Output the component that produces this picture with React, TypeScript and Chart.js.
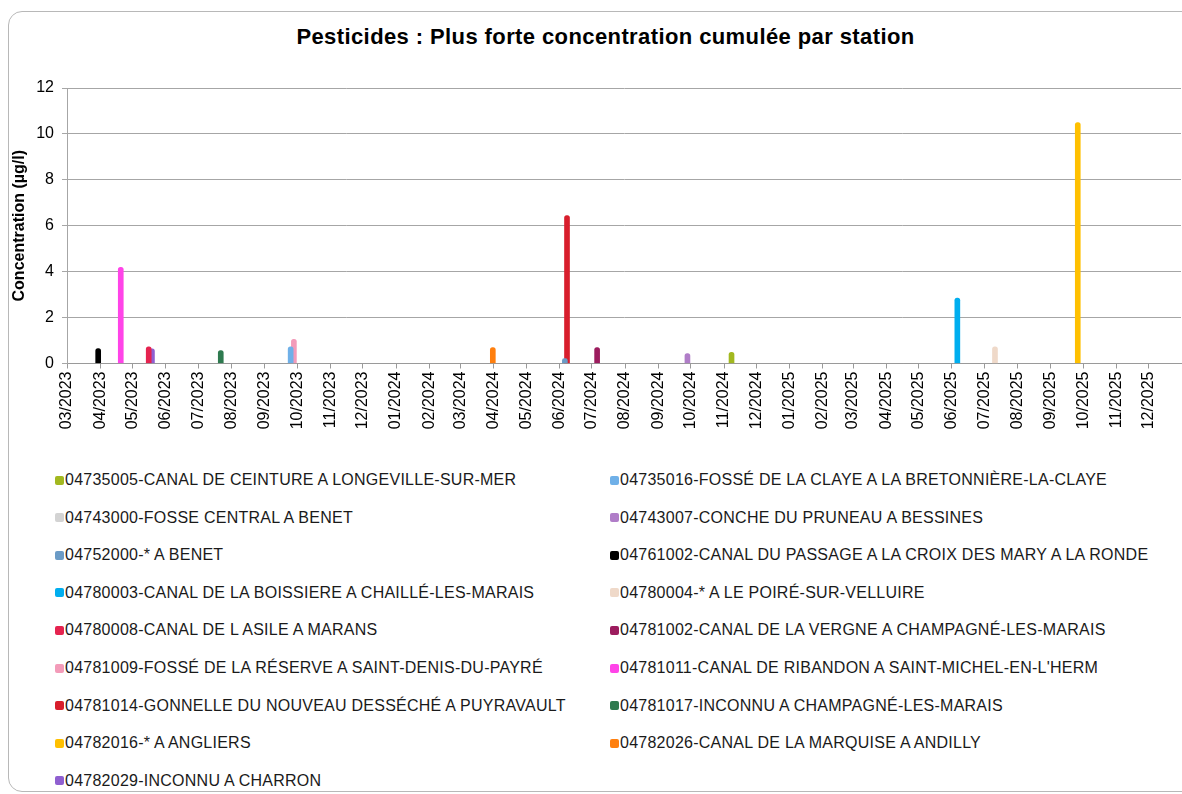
import React, { useEffect, useRef } from 'react';
import { Chart, registerables } from 'chart.js';

Chart.register(...registerables);

const chartTitle = 'Pesticides : Plus forte concentration cumulée par station';
const yAxisTitle = 'Concentration (µg/l)';

const stations = [
  '04735005-CANAL DE CEINTURE A LONGEVILLE-SUR-MER',
  '04735016-FOSSÉ DE LA CLAYE A LA BRETONNIÈRE-LA-CLAYE',
  '04743000-FOSSE CENTRAL A BENET',
  '04743007-CONCHE DU PRUNEAU A BESSINES',
  '04752000-* A BENET',
  '04761002-CANAL DU PASSAGE A LA CROIX DES MARY A LA RONDE',
  '04780003-CANAL DE LA BOISSIERE A CHAILLÉ-LES-MARAIS',
  '04780004-* A LE POIRÉ-SUR-VELLUIRE',
  '04780008-CANAL DE L ASILE A MARANS',
  '04781002-CANAL DE LA VERGNE A CHAMPAGNÉ-LES-MARAIS',
  '04781009-FOSSÉ DE LA RÉSERVE A SAINT-DENIS-DU-PAYRÉ',
  "04781011-CANAL DE RIBANDON A SAINT-MICHEL-EN-L'HERM",
  '04781014-GONNELLE DU NOUVEAU DESSÉCHÉ A PUYRAVAULT',
  '04781017-INCONNU A CHAMPAGNÉ-LES-MARAIS',
  '04782016-* A ANGLIERS',
  '04782026-CANAL DE LA MARQUISE A ANDILLY',
  '04782029-INCONNU A CHARRON',
];

const stationColors = [
  '#a2b81f',
  '#6fb0e8',
  '#d3d3d3',
  '#b07dc8',
  '#6b9bc6',
  '#000000',
  '#00aeef',
  '#efd9c9',
  '#e5234f',
  '#9c1c5e',
  '#f39bb9',
  '#ff44e8',
  '#d81e2c',
  '#2e7a4f',
  '#ffc000',
  '#ff7f0e',
  '#8f5fd0',
];

// date of the highest cumulated concentration per station (null = no visible bar)
const sampleDates: (string | null)[] = [
  '2024-11-08',
  '2023-09-25',
  null,
  '2024-09-28',
  '2024-06-06',
  '2023-03-30',
  '2025-06-06',
  '2025-07-11',
  '2023-05-16',
  '2024-07-06',
  '2023-09-28',
  '2023-04-20',
  '2024-06-08',
  '2023-07-22',
  '2025-09-26',
  '2024-03-31',
  '2023-05-19',
];

const maxConcentrations: (number | null)[] = [
  0.49,
  0.73,
  null,
  0.43,
  0.21,
  0.65,
  2.85,
  0.73,
  0.73,
  0.69,
  1.05,
  4.19,
  6.44,
  0.56,
  10.49,
  0.69,
  0.64,
];

const monthTickLabels = [
  '03/2023', '04/2023', '05/2023', '06/2023', '07/2023', '08/2023', '09/2023', '10/2023', '11/2023', '12/2023',
  '01/2024', '02/2024', '03/2024', '04/2024', '05/2024', '06/2024', '07/2024', '08/2024', '09/2024', '10/2024', '11/2024', '12/2024',
  '01/2025', '02/2025', '03/2025', '04/2025', '05/2025', '06/2025', '07/2025', '08/2025', '09/2025', '10/2025', '11/2025', '12/2025',
];

const axisStart = '2023-03-01';
const axisEnd = '2025-12-31';
const yMin = 0;
const yMax = 12;
const yStep = 2;

const FONT = "'Liberation Sans', Arial, sans-serif";

function dayOf(iso: string): number {
  const [y, m, d] = iso.split('-').map(Number);
  const [sy, sm, sd] = axisStart.split('-').map(Number);
  return Math.round((Date.UTC(y, m - 1, d) - Date.UTC(sy, sm - 1, sd)) / 86400000);
}

function tickDay(label: string): number {
  const [m, y] = label.split('/');
  return dayOf(`${y}-${m}-01`);
}

const tickDays = monthTickLabels.map(tickDay);

export default function App() {
  const canvasRef = useRef<HTMLCanvasElement | null>(null);

  useEffect(() => {
    if (!canvasRef.current) return;
    Chart.defaults.font.family = FONT;
    const datasets = stations.map((name, i) => ({
      label: name,
      data:
        sampleDates[i] !== null && maxConcentrations[i] !== null
          ? [{ x: dayOf(sampleDates[i] as string), y: maxConcentrations[i] as number }]
          : [],
      backgroundColor: stationColors[i],
      borderWidth: 0,
      barThickness: 5,
      borderRadius: 2.5,
      borderSkipped: 'start' as const,
    }));

    const chart = new Chart(canvasRef.current, {
      type: 'bar',
      data: { datasets },
      options: {
        animation: false,
        responsive: false,
        maintainAspectRatio: false,
        layout: { padding: { top: 88, left: 0, right: 1, bottom: 0 } },
        datasets: { bar: { grouped: false } },
        plugins: {
          legend: { display: false },
          title: { display: false },
          tooltip: { enabled: true },
        },
        scales: {
          x: {
            type: 'linear',
            offset: false,
            min: dayOf(axisStart),
            max: dayOf(axisEnd),
            afterBuildTicks: (scale: any) => {
              scale.ticks = tickDays.map((v) => ({ value: v }));
            },
            afterFit: (scale: any) => {
              scale.height = 76.5;
            },
            ticks: {
              autoSkip: false,
              minRotation: 90,
              maxRotation: 90,
              padding: 3,
              color: '#000',
              font: { size: 16, family: FONT },
              callback: (_v: any, i: number) => monthTickLabels[i],
            },
            grid: {
              offset: false,
              drawOnChartArea: false,
              drawTicks: true,
              tickLength: 5,
              color: '#9a9a9a',
            },
            border: { color: '#9a9a9a' },
          },
          y: {
            min: yMin,
            max: yMax,
            afterFit: (scale: any) => {
              scale.width = 67;
            },
            ticks: {
              stepSize: yStep,
              padding: 8,
              color: '#000',
              font: { size: 16, family: FONT },
            },
            grid: { color: '#a6a6a6', tickLength: 5, lineWidth: 1 },
            border: { color: '#a6a6a6' },
            title: {
              display: true,
              text: yAxisTitle,
              color: '#000',
              font: { size: 16, weight: 'bold', family: FONT },
              padding: { top: 10.4, bottom: 0 },
            },
          },
        },
      } as any,
    });
    return () => chart.destroy();
  }, []);

  const rowStart = 480;
  const rowGap = 37.6;

  return (
    <div
      style={{
        position: 'fixed',
        left: 0,
        top: 0,
        width: 1182,
        height: 794,
        overflow: 'hidden',
        background: '#fff',
        fontFamily: FONT,
      }}
    >
      <div
        style={{
          position: 'absolute',
          left: 8,
          top: 11,
          width: 1240,
          height: 781,
          boxSizing: 'border-box',
          border: '1px solid #b8b8b8',
          borderRadius: 14,
        }}
      />
      <div
        style={{
          position: 'absolute',
          left: 0,
          top: 24.4,
          width: 1211,
          textAlign: 'center',
          fontWeight: 'bold',
          fontSize: 22,
          lineHeight: '26px',
          letterSpacing: '0.4px',
          color: '#000',
          whiteSpace: 'nowrap',
        }}
      >
        {chartTitle}
      </div>
      <div style={{ position: 'absolute', left: 0, top: 0, width: 1182, height: 440 }}>
        <canvas ref={canvasRef} width={1182} height={440} style={{ width: 1182, height: 440 }} />
      </div>
      {stations.map((name, i) => {
        const row = Math.floor(i / 2);
        const col = i % 2;
        return (
          <div
            key={name}
            style={{
              position: 'absolute',
              left: col === 0 ? 55 : 610,
              top: rowStart + row * rowGap - 9,
              height: 18,
              display: 'flex',
              alignItems: 'center',
              whiteSpace: 'nowrap',
              fontSize: 16,
              lineHeight: '18px',
              letterSpacing: '0.25px',
              color: '#1a1a1a',
            }}
          >
            <span
              style={{
                display: 'inline-block',
                width: 9,
                height: 9,
                borderRadius: 2,
                background: stationColors[i],
                marginRight: 1,
              }}
            />
            <span>{name}</span>
          </div>
        );
      })}
    </div>
  );
}
